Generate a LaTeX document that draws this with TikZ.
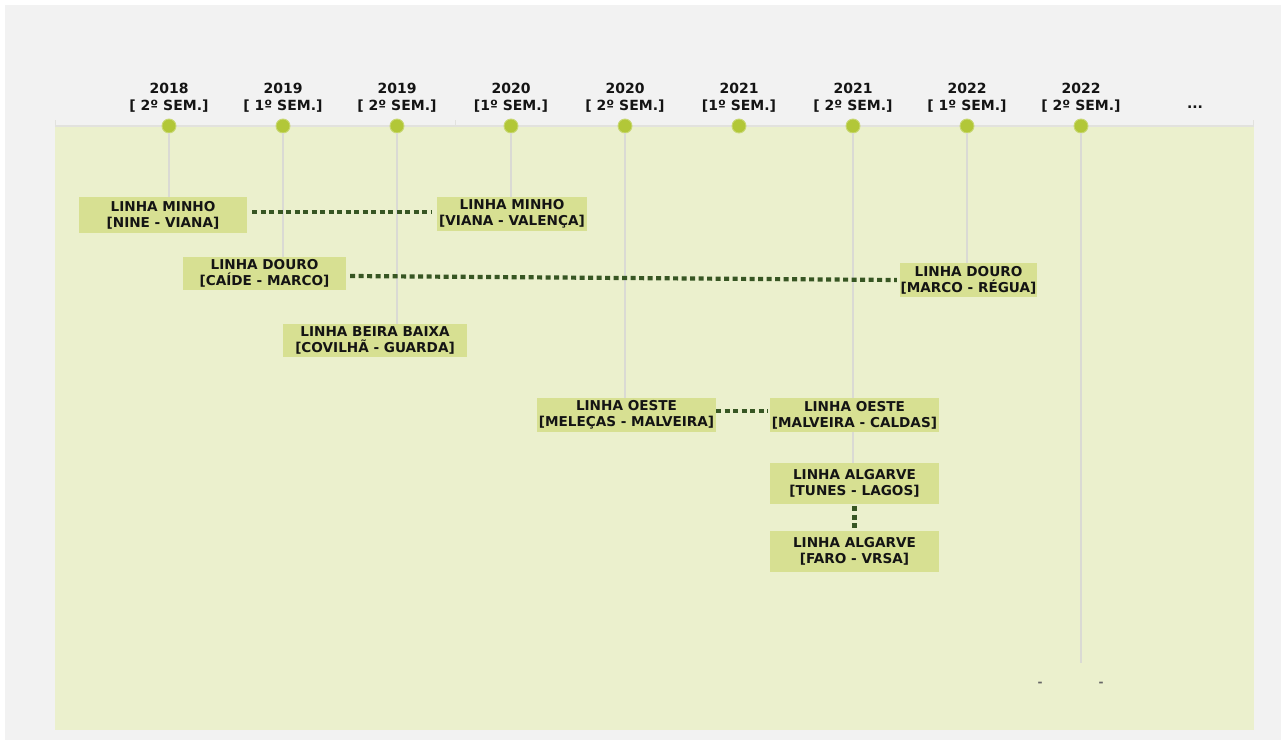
\documentclass[tikz,border=0pt]{standalone}
\usepackage{fontspec}
\usetikzlibrary{calc}
\setmainfont{DejaVu Sans}
\definecolor{outer}{RGB}{242,242,242}
\definecolor{panel}{RGB}{235,240,205}
\definecolor{boxc}{RGB}{215,224,146}
\definecolor{dotc}{RGB}{178,199,56}
\definecolor{vline}{RGB}{218,218,212}
\definecolor{topline}{RGB}{226,226,222}
\definecolor{conn}{RGB}{55,86,35}
\definecolor{txt}{RGB}{20,20,20}
\begin{document}
\begin{tikzpicture}[x=1pt,y=-1pt,
  every node/.style={font=\bfseries\fontsize{13.6}{15.8}\selectfont, text=txt},
  lbox/.style={fill=boxc, inner sep=0pt, align=center},
  tdot/.style={circle, fill=dotc, draw=dotc!70!white, line width=0.9pt, minimum size=14pt, inner sep=0pt},
  semlabel/.style={align=center, inner sep=0pt, font=\bfseries\fontsize{14}{17}\selectfont},
  stem/.style={draw=vline, line width=1.4pt},
  link/.style={draw=conn, line width=4.2pt, dash pattern=on 5pt off 3.5pt},
  tinymark/.style={font=\bfseries\fontsize{12}{12}\selectfont, text=black!60, inner sep=0pt}
]
\useasboundingbox (0,0) rectangle (1286,745);
\fill[white] (0,0) rectangle (1286,745);
\fill[outer] (5,5) rectangle (1281,740);
\fill[panel] (55,127) rectangle (1254,730);
\draw[topline, line width=2.5pt] (55,126) -- (1254,126);
\draw[topline, line width=1pt] (55.5,120) -- (55.5,126);
\draw[topline, line width=1pt] (455,120) -- (455,126);
\draw[topline, line width=1pt] (1253.5,120) -- (1253.5,126);

% semester labels
\node[semlabel] (s1) at (169,97.5) {2018\\{[} 2º SEM.]};
\node[semlabel] (s2) at (283,97.5) {2019\\{[} 1º SEM.]};
\node[semlabel] (s3) at (397,97.5) {2019\\{[} 2º SEM.]};
\node[semlabel] (s4) at (511,97.5) {2020\\{[}1º SEM.]};
\node[semlabel] (s5) at (625,97.5) {2020\\{[} 2º SEM.]};
\node[semlabel] (s6) at (739,97.5) {2021\\{[}1º SEM.]};
\node[semlabel] (s7) at (853,97.5) {2021\\{[} 2º SEM.]};
\node[semlabel] (s8) at (967,97.5) {2022\\{[} 1º SEM.]};
\node[semlabel] (s9) at (1081,97.5) {2022\\{[} 2º SEM.]};
\node[semlabel] (s10) at (1195,107) {...};

% stem end points
\coordinate (e9) at (1081,663);
\coordinate (t1) at (169,197);
\coordinate (t2) at (283,257);
\coordinate (t3) at (397,324);
\coordinate (t4) at (511,197);
\coordinate (t5) at (625,398);
\coordinate (t7) at (853,398);
\coordinate (t7b) at (853,432);
\coordinate (t7c) at (853,463);
\coordinate (t8) at (967,263);

% boxes
\node[lbox, minimum width=168pt, minimum height=36pt] (mn1) at (163,215) {LINHA MINHO\\{[}NINE - VIANA]};
\node[lbox, minimum width=150pt, minimum height=34pt] (mn2) at (512,214) {LINHA MINHO\\{[}VIANA - VALENÇA]};
\node[lbox, minimum width=163pt, minimum height=33pt] (dr1) at (264.5,273.5) {LINHA DOURO\\{[}CAÍDE - MARCO]};
\node[lbox, minimum width=137pt, minimum height=34pt] (dr2) at (968.5,280) {LINHA DOURO\\{[}MARCO - RÉGUA]};
\node[lbox, minimum width=184pt, minimum height=33pt] (bb) at (375,340.5) {LINHA BEIRA BAIXA\\{[}COVILHÃ - GUARDA]};
\node[lbox, minimum width=179pt, minimum height=34pt] (oe1) at (626.5,415) {LINHA OESTE\\{[}MELEÇAS - MALVEIRA]};
\node[lbox, minimum width=169pt, minimum height=34pt] (oe2) at (854.5,415) {LINHA OESTE\\{[}MALVEIRA - CALDAS]};
\node[lbox, minimum width=169pt, minimum height=41pt] (al1) at (854.5,483.5) {LINHA ALGARVE\\{[}TUNES - LAGOS]};
\node[lbox, minimum width=169pt, minimum height=41pt] (al2) at (854.5,551.5) {LINHA ALGARVE\\{[}FARO - VRSA]};

% dots
\node[tdot] (d1) at (169,126) {};
\node[tdot] (d2) at (283,126) {};
\node[tdot] (d3) at (397,126) {};
\node[tdot] (d4) at (511,126) {};
\node[tdot] (d5) at (625,126) {};
\node[tdot] (d6) at (739,126) {};
\node[tdot] (d7) at (853,126) {};
\node[tdot] (d8) at (967,126) {};
\node[tdot] (d9) at (1081,126) {};

% stems
\path[stem] (d1.south) -- (t1);
\path[stem] (d2.south) -- (t2);
\path[stem] (d3.south) -- (t3);
\path[stem] (d4.south) -- (t4);
\path[stem] (d5.south) -- (t5);
\path[stem] (d7.south) -- (t7);
\path[stem] (t7b) -- (t7c);
\path[stem] (d8.south) -- (t8);
\path[stem] (d9.south) -- (e9);

% connectors
\coordinate (c1a) at ($(mn1.east)+(5,-3)$);
\coordinate (c1b) at ($(mn2.west)+(-5,-2)$);
\path[link] (c1a) -- (c1b);
\coordinate (c2a) at ($(dr1.east)+(4,2.5)$);
\coordinate (c2b) at ($(dr2.west)+(-3,0)$);
\path[link] (c2a) -- (c2b);
\coordinate (c3a) at ($(oe1.east)+(0,-4)$);
\coordinate (c3b) at ($(oe2.west)+(-2,-4)$);
\path[link] (c3a) -- (c3b);
\coordinate (c4a) at ($(al1.south)+(0,2)$);
\coordinate (c4b) at ($(al2.north)+(0,-1)$);
\path[link] (c4a) -- (c4b);

% small marks
\node[tinymark] (m1) at (1040,684) {-};
\node[tinymark] (m2) at (1101,684) {-};
\end{tikzpicture}
\end{document}
